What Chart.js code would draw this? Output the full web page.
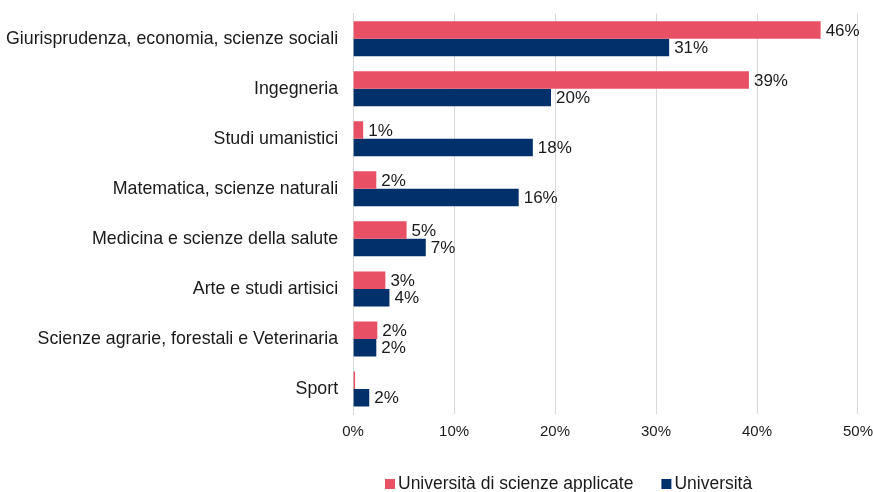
<!DOCTYPE html>
<html>
<head>
<meta charset="utf-8">
<script src="https://cdn.jsdelivr.net/npm/chart.js@4/dist/chart.umd.min.js"></script>
<style>
  html, body { margin: 0; padding: 0; background: #fff; }
  #wrap { width: 873px; height: 492px; }
</style>
</head>
<body>
<div id="wrap"><canvas id="dataPlot"></canvas></div>
<script>
const categories = [
  'Giurisprudenza, economia, scienze sociali',
  'Ingegneria',
  'Studi umanistici',
  'Matematica, scienze naturali',
  'Medicina e scienze della salute',
  'Arte e studi artisici',
  'Scienze agrarie, forestali e Veterinaria',
  'Sport'
];
const scienzeApplicate = [46.3, 39.2, 1.0, 2.3, 5.3, 3.2, 2.4, 0.2];
const universita = [31.3, 19.6, 17.8, 16.4, 7.2, 3.6, 2.3, 1.6];
const xTicks = [0, 10, 20, 30, 40, 50];

const RED = '#e85165';
const NAVY = '#02306b';
const FONT = "'Liberation Sans', Arial, sans-serif";

// value labels at the end of each bar
const barLabels = {
  id: 'barLabels',
  afterDatasetsDraw(chart) {
    const ctx = chart.ctx;
    ctx.save();
    ctx.font = '17px ' + FONT;
    ctx.fillStyle = '#1a1a1a';
    ctx.textBaseline = 'middle';
    ctx.textAlign = 'left';
    chart.data.datasets.forEach((ds, i) => {
      chart.getDatasetMeta(i).data.forEach((el, j) => {
        const v = Math.round(ds.data[j]);
        if (v < 1) return;
        ctx.fillText(v + '%', el.x + 5, el.y + 1);
      });
    });
    ctx.restore();
  }
};

// legend below the axis, as in the original
const bottomLegend = {
  id: 'bottomLegend',
  afterDraw(chart) {
    const ctx = chart.ctx;
    ctx.save();
    ctx.font = '17.5px ' + FONT;
    ctx.textBaseline = 'middle';
    ctx.textAlign = 'left';
    let x = 385;
    const y = 484;
    chart.data.datasets.forEach(ds => {
      ctx.fillStyle = ds.backgroundColor;
      ctx.fillRect(x, y - 5, 10, 10);
      ctx.fillStyle = '#1a1a1a';
      ctx.fillText(ds.label, x + 13, y);
      x += 13 + ctx.measureText(ds.label).width + 28;
    });
    ctx.restore();
  }
};

new Chart(document.getElementById('dataPlot'), {
  type: 'bar',
  data: {
    labels: categories,
    datasets: [{
      label: 'Università di scienze applicate',
      data: scienzeApplicate,
      backgroundColor: RED
    }, {
      label: 'Università',
      data: universita,
      backgroundColor: NAVY
    }]
  },
  options: {
    indexAxis: 'y',
    responsive: true,
    maintainAspectRatio: false,
    animation: false,
    categoryPercentage: 0.7,
    barPercentage: 1,
    layout: { padding: { left: 3, right: 0, top: 0, bottom: 51 } },
    plugins: {
      legend: { display: false },
      tooltip: { enabled: false }
    },
    scales: {
      x: {
        min: 0,
        max: 50,
        afterBuildTicks(axis) { axis.ticks = xTicks.map(v => ({ value: v })); },
        grid: { color: '#d9d9d9', drawTicks: true, tickLength: 9, tickColor: 'rgba(0,0,0,0)' },
        border: { display: false },
        ticks: {
          padding: 0,
          color: '#1a1a1a',
          font: { family: FONT, size: 15 },
          callback: v => v + '%'
        }
      },
      y: {
        grid: { display: false, tickLength: 12 },
        border: { color: '#d9d9d9' },
        ticks: {
          padding: 3,
          color: '#1a1a1a',
          font: { family: FONT, size: 17.8 }
        }
      }
    }
  },
  plugins: [barLabels, bottomLegend]
});
</script>
</body>
</html>
